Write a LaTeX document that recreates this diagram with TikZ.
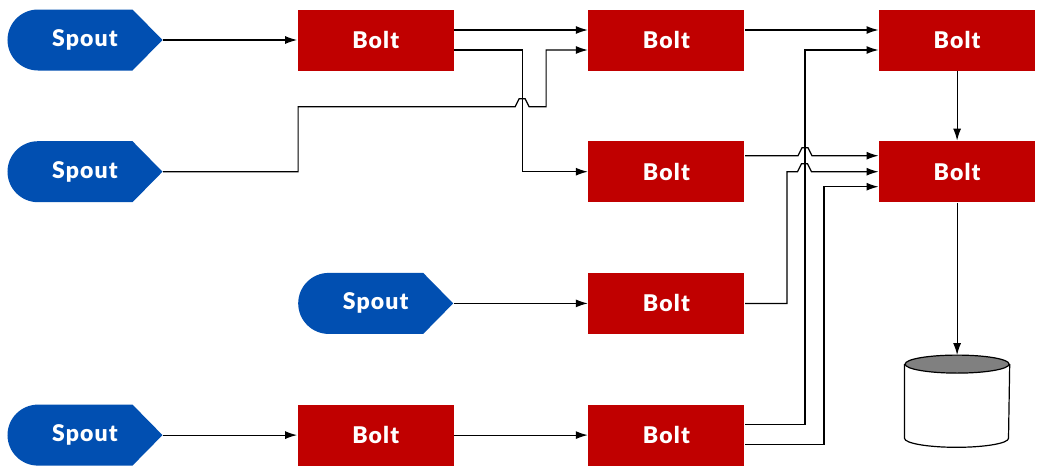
\documentclass[tikz,border=0pt]{standalone}
\usepackage{fontspec}
\newfontfamily\labelfont[LetterSpace=5]{Lato Black}
\usetikzlibrary{positioning,arrows.meta}
\definecolor{spoutblue}{HTML}{014FB1}
\definecolor{boltred}{HTML}{C00000}

\tikzset{
  label font/.style={text=white, font=\labelfont\fontsize{23}{23}\selectfont},
  spout/.style={label font, minimum width=155pt, minimum height=61pt, inner sep=0pt,
    path picture={\fill[spoutblue]
      ([xshift=30.5pt]path picture bounding box.north west)
      -- ([xshift=-30pt]path picture bounding box.north east)
      -- (path picture bounding box.east)
      -- ([xshift=-30pt]path picture bounding box.south east)
      -- ([xshift=30.5pt]path picture bounding box.south west)
      arc[start angle=270, end angle=90, radius=30.5pt] -- cycle;}},
  bolt/.style={label font, fill=boltred, minimum width=156pt, minimum height=61pt, inner sep=0pt},
  store/.style={minimum width=104pt, minimum height=91pt, inner sep=0pt}
}

\begin{document}
\begin{tikzpicture}[node distance=131.7pt and 290.7pt, on grid, line width=1.2pt,
                    >={Latex[length=12pt,width=8pt]}]
  \useasboundingbox (-85pt,40pt) rectangle (955pt,-431pt);

  \node[spout] (s1) at (0,0)      {Spout};
  \node[bolt]  (b1) [right=of s1] {Bolt};
  \node[bolt]  (b2) [right=of b1] {Bolt};
  \node[bolt]  (b3) [right=of b2] {Bolt};
  \node[spout] (s2) [below=of s1] {Spout};
  \node[bolt]  (b5) [below=of b2] {Bolt};
  \node[bolt]  (b6) [below=of b3] {Bolt};
  \node[bolt]  (b7) [below=of b5] {Bolt};
  \node[spout] (s3) [left=of b7]  {Spout};
  \node[bolt]  (b8) [below=of b7] {Bolt};
  \node[bolt]  (b4) [left=of b8]  {Bolt};
  \node[spout] (s4) [left=of b4]  {Spout};
  \node[store] (db) [below=229.5pt of b6] {};
  % database drum
  \draw[fill=white] ([yshift=-9pt]db.north west) -- ([yshift=9pt]db.south west)
        arc[start angle=180, end angle=360, x radius=52pt, y radius=9pt]
        -- ([yshift=-9pt]db.north east);
  \draw[fill=black!50] ([yshift=-9pt]db.north) ellipse[x radius=52pt, y radius=9pt];

  % row 1
  \draw[->] (s1) -- (b1);
  \draw[->] ([yshift=10pt]b1.east) -- ([yshift=10pt]b2.west);
  \draw[->] ([yshift=-10pt]b1.east) -- ++(68pt,0) |- (b5.west);
  \draw[->] ([yshift=10pt]b2.east) -- ([yshift=10pt]b3.west);
  \draw[->] (b3.south) -- (b6.north);

  % row 2, hop over b1 -> b5
  \draw[->] (s2.east) -- ++(135pt,0) -- ++(0,65pt) -- ++(217pt,0)
            -- ++(4pt,8pt) -- ++(6pt,0) -- ++(4pt,-8pt) -- ++(17pt,0)
            |- ([yshift=-10pt]b2.west);
  \draw[->] ([yshift=16pt]b5.east) -- ++(53pt,0)
            -- ++(4pt,8pt) -- ++(6pt,0) -- ++(4pt,-8pt)
            -- ([yshift=16pt]b6.west);
  \draw[->] (b6.south) -- (db.north);

  % row 3
  \draw[->] (s3) -- (b7);
  \draw[->] (b7.east) -- ++(42pt,0) |- ([xshift=-81pt]b6.west)
            -- ++(4pt,8pt) -- ++(6pt,0) -- ++(4pt,-8pt) -- (b6.west);

  % row 4
  \draw[->] (s4) -- (b4);
  \draw[->] (b4) -- (b8);
  \draw[->] ([yshift=11pt]b8.east) -- ++(60pt,0) |- ([yshift=-10pt]b3.west);
  \draw[->] ([yshift=-9pt]b8.east) -- ++(79pt,0) |- ([yshift=-15pt]b6.west);
\end{tikzpicture}
\end{document}
